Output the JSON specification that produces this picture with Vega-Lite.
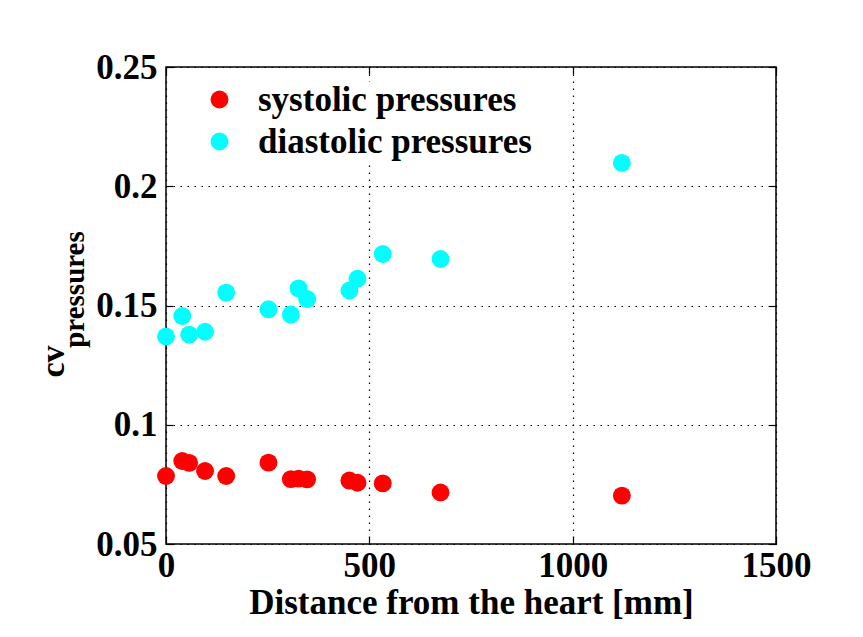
{
  "$schema": "https://vega.github.io/schema/vega-lite/v6.json",
  "width": 610,
  "height": 477,
  "autosize": {"type": "none"},
  "padding": {"left": 166, "top": 67, "right": 87, "bottom": 93},
  "background": "white",
  "config": {
    "font": "Liberation Serif",
    "view": {"stroke": "black", "strokeWidth": 1.5, "fill": "white"},
    "axis": {
      "labelFont": "Liberation Serif",
      "labelFontWeight": "bold",
      "labelFontSize": 35,
      "labelColor": "black",
      "labelFlush": false,
      "labelOverlap": false,
      "titleFont": "Liberation Serif",
      "titleFontWeight": "bold",
      "titleColor": "black",
      "domain": false,
      "tickColor": "black",
      "tickWidth": 1.2,
      "gridColor": "black",
      "gridDash": [1.5, 5.5],
      "gridWidth": 1.2,
      "gridOpacity": 1
    },
    "title": {"font": "Liberation Serif", "fontWeight": "bold", "color": "black"}
  },
  "title": {
    "text": "cv",
    "orient": "left",
    "anchor": "middle",
    "frame": "group",
    "fontSize": 34,
    "offset": -11,
    "dx": -56
  },
  "data": {
    "values": [
      {"d": 0, "cv": 0.0785, "type": "systolic pressures"},
      {"d": 40, "cv": 0.0848, "type": "systolic pressures"},
      {"d": 57, "cv": 0.0840, "type": "systolic pressures"},
      {"d": 96, "cv": 0.0806, "type": "systolic pressures"},
      {"d": 148, "cv": 0.0785, "type": "systolic pressures"},
      {"d": 252, "cv": 0.0841, "type": "systolic pressures"},
      {"d": 307, "cv": 0.0772, "type": "systolic pressures"},
      {"d": 326, "cv": 0.0774, "type": "systolic pressures"},
      {"d": 347, "cv": 0.0771, "type": "systolic pressures"},
      {"d": 451, "cv": 0.0766, "type": "systolic pressures"},
      {"d": 471, "cv": 0.0757, "type": "systolic pressures"},
      {"d": 533, "cv": 0.0754, "type": "systolic pressures"},
      {"d": 675, "cv": 0.0716, "type": "systolic pressures"},
      {"d": 1121, "cv": 0.0703, "type": "systolic pressures"},
      {"d": 0, "cv": 0.1370, "type": "diastolic pressures"},
      {"d": 40, "cv": 0.1456, "type": "diastolic pressures"},
      {"d": 57, "cv": 0.1378, "type": "diastolic pressures"},
      {"d": 96, "cv": 0.1390, "type": "diastolic pressures"},
      {"d": 148, "cv": 0.1554, "type": "diastolic pressures"},
      {"d": 252, "cv": 0.1484, "type": "diastolic pressures"},
      {"d": 307, "cv": 0.1462, "type": "diastolic pressures"},
      {"d": 326, "cv": 0.1572, "type": "diastolic pressures"},
      {"d": 347, "cv": 0.1527, "type": "diastolic pressures"},
      {"d": 451, "cv": 0.1563, "type": "diastolic pressures"},
      {"d": 471, "cv": 0.1612, "type": "diastolic pressures"},
      {"d": 533, "cv": 0.1716, "type": "diastolic pressures"},
      {"d": 675, "cv": 0.1695, "type": "diastolic pressures"},
      {"d": 1121, "cv": 0.2098, "type": "diastolic pressures"}
    ]
  },
  "layer": [
    {
      "mark": {"type": "point", "filled": true, "shape": "circle", "size": 320, "opacity": 1},
      "encoding": {
        "x": {
          "field": "d", "type": "quantitative",
          "scale": {"domain": [0, 1500], "nice": false, "zero": false},
          "axis": {"values": [0, 500, 1000, 1500], "format": "d", "grid": true, "tickSize": -7, "labelPadding": 11,
                   "title": "Distance from the heart [mm]", "titleFontSize": 35, "titlePadding": 2}
        },
        "y": {
          "field": "cv", "type": "quantitative",
          "scale": {"domain": [0.05, 0.25], "nice": false, "zero": false},
          "axis": {"values": [0.05, 0.1, 0.15, 0.2, 0.25], "format": "~g", "grid": true, "tickSize": -7, "labelPadding": 16,
                   "title": "pressures", "titleFontSize": 29, "titleX": -83, "titleY": 222, "titleBaseline": "alphabetic", "titleAngle": 270}
        },
        "color": {
          "field": "type", "type": "nominal",
          "scale": {"domain": ["systolic pressures", "diastolic pressures"], "range": ["#ff0000", "#00ffff"]},
          "legend": {
            "title": null, "orient": "none", "legendX": 36, "legendY": 15, "padding": 0,
            "symbolType": "circle", "symbolSize": 320, "symbolStrokeWidth": 0,
            "labelFont": "Liberation Serif", "labelFontWeight": "bold", "labelFontSize": 35, "labelColor": "black",
            "labelLimit": 0, "labelOffset": 21, "rowPadding": 6, "fillColor": "white"
          }
        }
      }
    },
    {
      "mark": {"type": "point", "opacity": 0},
      "encoding": {
        "x": {
          "field": "d", "type": "quantitative",
          "axis": {"orient": "top", "values": [0, 500, 1000, 1500], "labels": false, "grid": false, "tickSize": -7, "title": null}
        },
        "y": {
          "field": "cv", "type": "quantitative",
          "axis": {"orient": "right", "values": [0.05, 0.1, 0.15, 0.2, 0.25], "labels": false, "grid": false, "tickSize": -7, "title": null}
        }
      }
    }
  ],
  "resolve": {"axis": {"x": "independent", "y": "independent"}}
}
